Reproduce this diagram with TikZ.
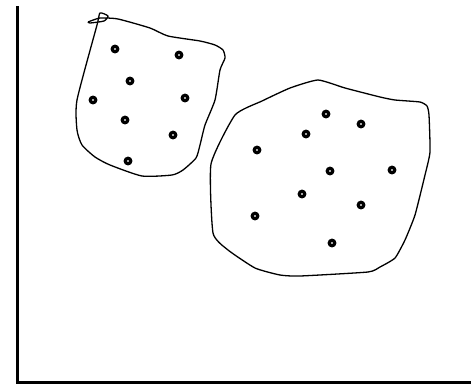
\documentclass[tikz,border=0pt]{standalone}
\begin{document}
\begin{tikzpicture}[x=1pt,y=-1pt,
  pt/.style={circle,draw=black,line width=3.2pt,fill=white,minimum size=5.5pt,inner sep=0pt},
  blob/.style={line width=1.3pt,line join=round},
  axis/.style={line width=2.4pt}]
\useasboundingbox (0,0) rectangle (471,384);
% axes
\coordinate (top) at (17.5,6);
\coordinate (origin) at (17.5,382.5);
\coordinate (right) at (471,382.5);
\draw[axis] (top) -- (origin) -- (right);
% left blob
\draw[blob] plot[smooth,tension=0.35] coordinates {
 (88,22) (100,18) (118,19) (150,28) (168,36) (200,41) (215,45) (223,50) (225,58) (220,70) (215,100) (205,125) (200,145) (196,158) (183,170) (172,175) (142,176) (110,165) (95,157) (82,145) (77,130) (77,100) (97,25) (100,13) (108,16) (104,21) (90,23) (88,22)};
% right blob
\draw[blob] plot[smooth cycle,tension=0.3] coordinates {
 (235,115) (262,101) (290,88) (318,80) (345,88) (380,97) (395,100) (420,102) (427,106) (429,115) (430,152) (425,175) (415,215) (405,240) (395,258) (380,267) (368,272) (300,276) (280,275) (255,268) (228,250) (213,233) (211,164)};
% points left
\node[pt] (a1) at (115,49) {};
\node[pt] (a2) at (179,55) {};
\node[pt] (a3) at (130,81) {};
\node[pt] (a4) at (93,100) {};
\node[pt] (a5) at (185,98) {};
\node[pt] (a6) at (125,120) {};
\node[pt] (a7) at (173,135) {};
\node[pt] (a8) at (128,161) {};
% points right
\node[pt] (b1) at (326,114) {};
\node[pt] (b2) at (361,124) {};
\node[pt] (b3) at (306,134) {};
\node[pt] (b4) at (257,150) {};
\node[pt] (b5) at (330,171) {};
\node[pt] (b6) at (392,170) {};
\node[pt] (b7) at (302,194) {};
\node[pt] (b8) at (361,205) {};
\node[pt] (b9) at (255,216) {};
\node[pt] (b10) at (332,243) {};
\end{tikzpicture}
\end{document}
